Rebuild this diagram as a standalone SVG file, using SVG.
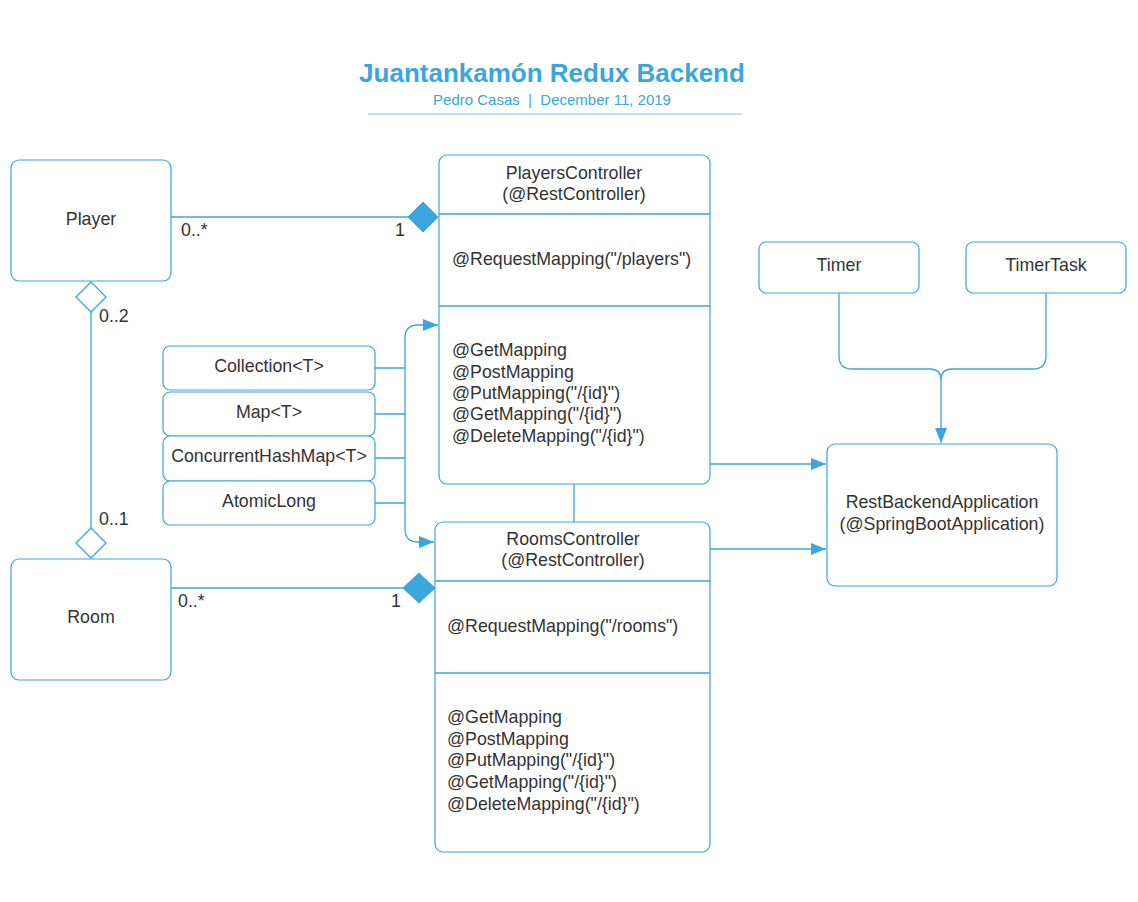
<svg xmlns="http://www.w3.org/2000/svg" width="1138" height="902" viewBox="0 0 1138 902">
<style>
.box{fill:#fff;stroke:#3aa6dd;stroke-width:1.2}
.ln{fill:none;stroke:#3aa6dd;stroke-width:1.3}
.t{font-family:"Liberation Sans",Arial,sans-serif;font-size:17.8px;fill:#333}
.c{text-anchor:middle}
.fd{fill:#3aa6dd;stroke:#3aa6dd}
.hd{fill:#fff;stroke:#3aa6dd;stroke-width:1.3}
</style>
<defs>
<marker id="ah" markerWidth="16" markerHeight="12" refX="15" refY="6" orient="auto" markerUnits="userSpaceOnUse">
<path d="M0,0 L15,6 L0,12 Z" fill="#3aa6dd"/>
</marker>
</defs>
<rect width="1138" height="902" fill="#fff"/>
<g id="title">
<text x="552" y="82" text-anchor="middle" font-family="Liberation Sans,Arial,sans-serif" font-size="26" font-weight="bold" fill="#3aa6dd">Juantankamón Redux Backend</text>
<text x="552" y="105" text-anchor="middle" font-family="Liberation Sans,Arial,sans-serif" font-size="15" fill="#3aa6dd" xml:space="preserve">Pedro Casas  |  December 11, 2019</text>
<line x1="368" y1="114" x2="742" y2="114" stroke="#a9d3ef" stroke-width="1.5"/>
</g>
<g id="connectors">
<path class="ln" d="M171,217 H410"/>
<path class="ln" d="M171,588 H405"/>
<path class="ln" d="M91,312 V528"/>
<path class="ln" d="M574,484 V522"/>
<path class="ln" d="M710,464 H826" marker-end="url(#ah)"/>
<path class="ln" d="M710,549 H826" marker-end="url(#ah)"/>
<path class="ln" d="M375,368 H405 M375,414 H405 M375,458 H405 M375,503 H405"/>
<path class="ln" d="M405,338 V529 Q405,542 418,542 H434" marker-end="url(#ah)"/>
<path class="ln" d="M405,338 Q405,325 418,325 H438" marker-end="url(#ah)"/>
<path class="ln" d="M839,293 V356 Q839,369 852,369 H930 Q941,369 941,380 V443" marker-end="url(#ah)"/>
<path class="ln" d="M1046,293 V356 Q1046,369 1033,369 H952 Q941,369 941,380"/>
<polygon class="fd" points="408,217 423,202 438,217 423,232"/>
<polygon class="fd" points="403,588 419,573 435,588 419,603"/>
<polygon class="hd" points="91,282 106,297 91,312 76,297"/>
<polygon class="hd" points="91,528 106,543 91,558 76,543"/>
<text class="t" x="181" y="236">0..*</text>
<text class="t" x="395" y="236">1</text>
<text class="t" x="178" y="607">0..*</text>
<text class="t" x="391" y="607">1</text>
<text class="t" x="99" y="322">0..2</text>
<text class="t" x="99" y="525">0..1</text>
</g>
<g id="player">
<rect class="box" x="11" y="160" width="160" height="121" rx="8"/>
<text class="t c" x="91" y="225">Player</text>
</g>
<g id="room">
<rect class="box" x="11" y="559" width="160" height="121" rx="8"/>
<text class="t c" x="91" y="623">Room</text>
</g>
<g id="playersController">
<rect class="box" x="439" y="155" width="271" height="329" rx="8"/>
<line class="ln" x1="439" y1="214" x2="710" y2="214"/>
<line class="ln" x1="439" y1="306" x2="710" y2="306"/>
<text class="t c" x="574" y="179">PlayersController</text>
<text class="t c" x="574" y="200">(@RestController)</text>
<text class="t" x="452" y="265">@RequestMapping("/players")</text>
<text class="t" x="452" y="356">@GetMapping</text>
<text class="t" x="452" y="378">@PostMapping</text>
<text class="t" x="452" y="399">@PutMapping("/{id}")</text>
<text class="t" x="452" y="420">@GetMapping("/{id}")</text>
<text class="t" x="452" y="442">@DeleteMapping("/{id}")</text>
</g>
<g id="roomsController">
<rect class="box" x="435" y="522" width="275" height="330" rx="8"/>
<line class="ln" x1="435" y1="581" x2="710" y2="581"/>
<line class="ln" x1="435" y1="673" x2="710" y2="673"/>
<text class="t c" x="573" y="545">RoomsController</text>
<text class="t c" x="573" y="566">(@RestController)</text>
<text class="t" x="447" y="632">@RequestMapping("/rooms")</text>
<text class="t" x="447" y="723">@GetMapping</text>
<text class="t" x="447" y="745">@PostMapping</text>
<text class="t" x="447" y="766">@PutMapping("/{id}")</text>
<text class="t" x="447" y="788">@GetMapping("/{id}")</text>
<text class="t" x="447" y="810">@DeleteMapping("/{id}")</text>
</g>
<g id="collection">
<rect class="box" x="163" y="346" width="212" height="44" rx="7"/>
<text class="t c" x="269" y="372">Collection&lt;T&gt;</text>
</g>
<g id="map">
<rect class="box" x="163" y="392" width="212" height="44" rx="7"/>
<text class="t c" x="269" y="418">Map&lt;T&gt;</text>
</g>
<g id="concurrentHashMap">
<rect class="box" x="163" y="436" width="212" height="45" rx="7"/>
<text class="t c" x="269" y="462">ConcurrentHashMap&lt;T&gt;</text>
</g>
<g id="atomicLong">
<rect class="box" x="163" y="481" width="212" height="44" rx="7"/>
<text class="t c" x="269" y="507">AtomicLong</text>
</g>
<g id="timer">
<rect class="box" x="759" y="242" width="160" height="51" rx="7"/>
<text class="t c" x="839" y="271">Timer</text>
</g>
<g id="timerTask">
<rect class="box" x="966" y="242" width="160" height="51" rx="7"/>
<text class="t c" x="1046" y="271">TimerTask</text>
</g>
<g id="restBackendApplication">
<rect class="box" x="827" y="444" width="230" height="142" rx="8"/>
<text class="t c" x="942" y="508">RestBackendApplication</text>
<text class="t c" x="942" y="530">(@SpringBootApplication)</text>
</g>
</svg>
